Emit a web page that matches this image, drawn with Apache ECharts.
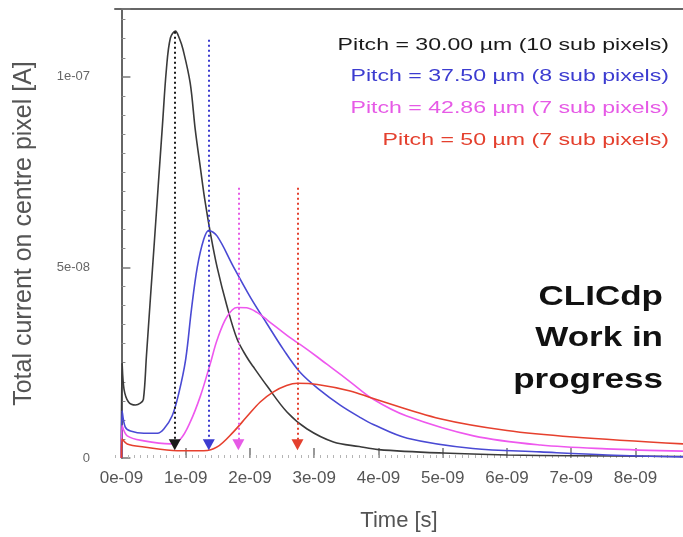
<!DOCTYPE html>
<html>
<head>
<meta charset="utf-8">
<script src="https://cdn.jsdelivr.net/npm/echarts@6/dist/echarts.min.js"></script>
<style>
  html, body { margin: 0; padding: 0; background: #fff; }
  #chart { width: 683px; height: 537px; }
</style>
</head>
<body>
<div id="chart"></div>
<script>
// time in ns, current in units of 1e-8 A
const pitch30 = [
  [0, 0], [0.01, 2.5], [0.04, 1.81], [0.11, 1.47], [0.22, 1.39], [0.295, 1.44],
  [0.342, 1.54], [0.389, 2.67], [0.451, 4.19], [0.513, 5.68], [0.575, 7.2],
  [0.638, 8.72], [0.70, 10.2], [0.762, 11.02], [0.84, 11.2],
  [0.90, 11.02], [0.96, 10.71], [1.07, 9.84], [1.15, 8.6], [1.23, 7.6],
  [1.30, 6.75], [1.39, 5.85], [1.49, 5.0], [1.64, 4.0], [1.80, 3.12],
  [1.95, 2.65], [2.05, 2.4], [2.27, 1.88], [2.58, 1.2], [2.89, 0.76],
  [3.30, 0.42], [3.7, 0.3], [4.0, 0.22], [5.0, 0.13], [6.0, 0.08],
  [7.0, 0.06], [8.74, 0.04]
];
const pitch375 = [
  [0, 0], [0.01, 1.24], [0.06, 0.81], [0.14, 0.71], [0.35, 0.65], [0.56, 0.65],
  [0.66, 0.76], [0.79, 1.11], [0.89, 1.68], [1.0, 2.59], [1.09, 3.9],
  [1.18, 5.0], [1.28, 5.73], [1.36, 5.97], [1.49, 5.82], [1.74, 5.03],
  [2.01, 4.21], [2.27, 3.51], [2.52, 2.85], [2.78, 2.25], [3.09, 1.78],
  [3.41, 1.38], [3.7, 1.08], [3.92, 0.88], [4.45, 0.52], [5.47, 0.25],
  [6.52, 0.16], [7.56, 0.08], [8.74, 0.03]
];
const pitch4286 = [
  [0, 0], [0.01, 0.85], [0.09, 0.58], [0.35, 0.45], [0.76, 0.37], [0.92, 0.5],
  [1.07, 0.94], [1.23, 1.63], [1.38, 2.46], [1.49, 3.1], [1.64, 3.7],
  [1.80, 3.95], [1.95, 3.94], [2.11, 3.82], [2.27, 3.62], [2.63, 3.15],
  [2.78, 2.98], [3.05, 2.65], [3.30, 2.33], [3.56, 2.0], [3.92, 1.54],
  [4.44, 1.1], [5.48, 0.58], [6.52, 0.34], [7.55, 0.24], [8.74, 0.18]
];
const pitch50 = [
  [0, 0], [0.01, 0.5], [0.09, 0.37], [0.35, 0.29], [0.87, 0.19], [1.28, 0.19],
  [1.49, 0.29], [1.74, 0.68], [1.95, 1.08], [2.16, 1.47], [2.36, 1.73],
  [2.57, 1.9], [2.74, 1.96], [3.05, 1.93], [3.56, 1.76], [3.92, 1.56],
  [4.96, 1.03], [6.0, 0.72], [7.03, 0.55], [8.74, 0.37]
];

const legendLabels = [
  'Pitch = 30.00 µm (10 sub pixels)',
  'Pitch = 37.50 µm (8 sub pixels)',
  'Pitch = 42.86 µm (7 sub pixels)',
  'Pitch = 50 µm (7 sub pixels)'
];
const stampLines = ['CLICdp', 'Work in', 'progress'];
const lineColors = ['#3a3a3a', '#4a4ad4', '#ee58ee', '#e6402e'];
const textColors = ['#1a1a1a', '#3c3cd0', '#e65ae6', '#e4402e'];

// peak-time markers (dotted line + arrow)
const peakTimes = [0.83, 1.36, 1.82, 2.74];
const peakTops = [11.18, 10.97, 7.09, 7.09];
const arrowEnd = 0.35;

const xTickValues = [0, 1, 2, 3, 4, 5, 6, 7, 8];
const xMin = -0.1;
const xMax = 8.74;

const seriesData = [pitch30, pitch375, pitch4286, pitch50];

const chart = echarts.init(document.getElementById('chart'), null, { renderer: 'canvas' });

const series = seriesData.map((data, i) => ({
  name: legendLabels[i],
  type: 'line',
  data: data,
  showSymbol: false,
  smooth: 0.35,
  lineStyle: { color: lineColors[i], width: 1.6 },
  z: 3,
  markLine: {
    silent: true,
    symbol: ['none', 'triangle'],
    symbolSize: [12, 11],
    label: { show: false },
    lineStyle: { color: textColors[i], type: [2, 3], width: 2 },
    itemStyle: { color: textColors[i] },
    data: [[
      { coord: [peakTimes[i], peakTops[i]] },
      { coord: [peakTimes[i], arrowEnd] }
    ]]
  }
}));

// legend and stamp: text is stretched sideways like the original picture
const graphics = legendLabels.map((t, i) => ({
  type: 'text',
  x: 669,
  y: 45 + i * 31.7,
  scaleX: 1.36,
  style: {
    text: t,
    fill: textColors[i],
    font: '17px "Liberation Sans"',
    align: 'right',
    verticalAlign: 'middle'
  }
}));
stampLines.forEach((t, i) => {
  graphics.push({
    type: 'text',
    x: 663,
    y: 297 + i * 41.5,
    scaleX: 1.25,
    style: {
      text: t,
      fill: '#111',
      font: 'bold 28px "Liberation Sans"',
      align: 'right',
      verticalAlign: 'middle'
    }
  });
});

chart.setOption({
  animation: false,
  backgroundColor: '#fff',
  grid: { left: 115, right: 0, top: 9, bottom: 78 },
  xAxis: [
    {
      type: 'value',
      min: xMin,
      max: xMax,
      position: 'bottom',
      name: 'Time [s]',
      nameLocation: 'middle',
      nameGap: 52,
      nameMoveOverlap: false,
      nameTextStyle: { fontSize: 22, color: '#555', fontFamily: 'Liberation Sans' },
      axisLine: { show: false },
      axisTick: {
        inside: true, length: 10, customValues: xTickValues,
        lineStyle: { color: '#777', width: 1.5 }
      },
      axisLabel: {
        customValues: xTickValues,
        margin: 12,
        fontSize: 17,
        color: '#555',
        fontFamily: 'Liberation Sans',
        formatter: v => Math.round(v) + 'e-09'
      },
      splitLine: { show: false }
    },
    {
      type: 'value',
      min: xMin,
      max: xMax,
      interval: 0.1,
      position: 'bottom',
      axisLine: { show: false },
      axisTick: { inside: true, length: 3, lineStyle: { color: '#b5b5b5' } },
      axisLabel: { show: false },
      splitLine: { show: false }
    },
    {
      type: 'value',
      min: xMin,
      max: xMax,
      position: 'top',
      axisLine: { show: true, lineStyle: { color: '#666', width: 2 } },
      axisTick: { show: false },
      axisLabel: { show: false },
      splitLine: { show: false }
    }
  ],
  yAxis: {
    type: 'value',
    min: 0,
    max: 11.78,
    interval: 5,
    name: 'Total current on centre pixel [A]',
    nameLocation: 'middle',
    nameGap: 78,
    nameMoveOverlap: false,
    nameTextStyle: { fontSize: 25, color: '#555', fontFamily: 'Liberation Sans' },
    axisLine: { show: true, lineStyle: { color: '#666', width: 2 } },
    axisTick: { inside: true, length: 9, lineStyle: { color: '#777', width: 1.5 } },
    minorTick: { show: true, splitNumber: 10, length: 4, lineStyle: { color: '#888' } },
    axisLabel: {
      showMaxLabel: false,
      margin: 25,
      fontSize: 13,
      color: '#666',
      fontFamily: 'Liberation Sans',
      formatter: v => (v === 0 ? '0' : v === 5 ? '5e-08' : v === 10 ? '1e-07' : '')
    },
    splitLine: { show: false }
  },
  graphic: graphics,
  series: series
});
</script>
</body>
</html>
